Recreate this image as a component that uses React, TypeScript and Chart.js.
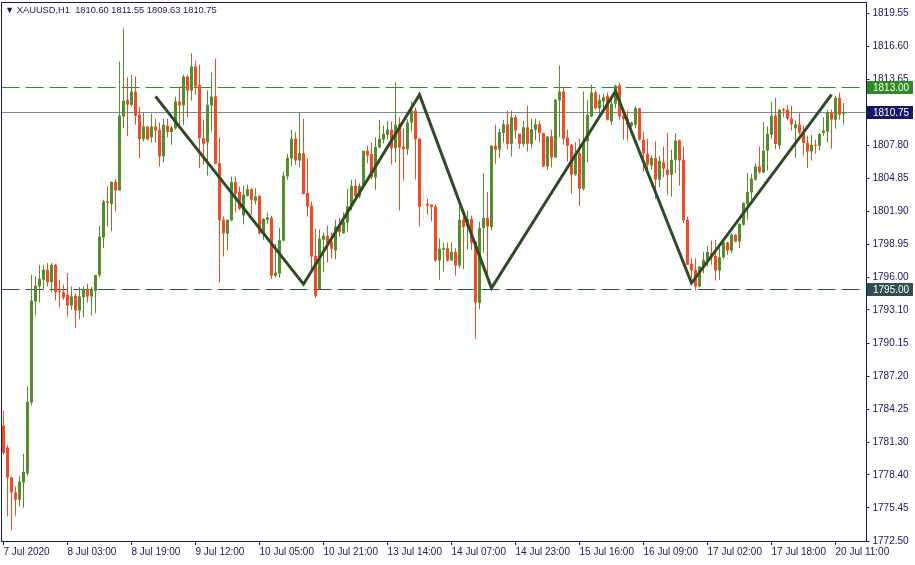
import React, { useEffect, useRef } from 'react';
import { Chart, registerables } from 'chart.js';

Chart.register(...registerables);

// ---- data (XAUUSD H1) ----
const opens = [
  1782.80, 1780.84, 1778.17, 1776.83, 1776.18, 1777.72, 1778.55, 1784.85, 1793.86, 1795.20,
  1795.80, 1796.69, 1795.56, 1797.13, 1794.82, 1794.69, 1794.45, 1793.50, 1794.36, 1793.06,
  1794.24, 1794.96, 1794.30, 1794.81, 1796.21, 1799.57, 1802.78, 1802.54, 1804.53, 1803.76,
  1810.36, 1811.85, 1811.40, 1812.59, 1810.51, 1808.33, 1809.46, 1808.51, 1809.46, 1809.16,
  1806.79, 1809.52, 1808.96, 1809.31, 1811.69, 1811.33, 1813.92, 1812.67, 1814.81, 1813.18,
  1808.42, 1808.03, 1811.33, 1812.13, 1806.19, 1801.14, 1799.89, 1801.08, 1804.50, 1803.61,
  1801.53, 1803.28, 1803.87, 1802.83, 1803.28, 1799.95, 1801.14, 1801.29, 1796.15, 1796.32,
  1799.30, 1805.00, 1806.61, 1808.36, 1806.43, 1807.08, 1803.52, 1802.39, 1797.93, 1794.96,
  1799.36, 1799.71, 1799.21, 1798.40, 1800.54, 1799.95, 1800.90, 1802.33, 1804.17, 1803.22,
  1804.17, 1807.29, 1807.00, 1804.91, 1807.59, 1808.27, 1808.72, 1809.16, 1807.53, 1809.70,
  1807.68, 1807.44, 1809.82, 1810.86, 1808.36, 1802.50, 1802.57, 1802.48, 1802.33, 1797.51,
  1798.46, 1798.61, 1797.51, 1798.26, 1797.07, 1801.14, 1800.49, 1801.20, 1799.21, 1793.71,
  1800.40, 1801.29, 1800.49, 1807.74, 1807.38, 1808.87, 1809.67, 1807.92, 1810.29, 1808.81,
  1807.92, 1809.40, 1807.92, 1809.16, 1809.67, 1808.87, 1805.90, 1808.57, 1806.70, 1811.78,
  1812.58, 1808.48, 1807.83, 1805.15, 1807.08, 1803.90, 1808.12, 1810.35, 1812.49, 1811.09,
  1811.69, 1812.19, 1809.90, 1811.48, 1813.12, 1810.41, 1810.14, 1809.52, 1809.61, 1811.09,
  1808.27, 1807.02, 1805.98, 1806.64, 1804.70, 1806.28, 1805.60, 1805.15, 1806.49, 1808.21,
  1806.49, 1801.14, 1797.22, 1796.68, 1795.20, 1796.92, 1797.51, 1798.17, 1797.93, 1796.62,
  1797.81, 1799.12, 1798.40, 1799.80, 1799.21, 1800.69, 1802.57, 1803.58, 1804.70, 1805.90,
  1805.36, 1807.29, 1808.72, 1810.41, 1807.77, 1811.00, 1810.95, 1810.14, 1809.31, 1809.67,
  1808.93, 1807.98, 1807.23, 1807.83, 1807.74, 1808.87, 1809.01, 1810.74, 1810.05, 1811.99,
  1810.60,
];
const highs = [
  1784.11, 1781.08, 1778.26, 1777.36, 1778.32, 1780.28, 1786.28, 1796.24, 1796.09, 1797.11,
  1797.10, 1797.28, 1797.28, 1797.20, 1795.80, 1795.35, 1796.39, 1795.20, 1794.60, 1795.14,
  1795.20, 1795.44, 1795.14, 1796.21, 1800.61, 1802.93, 1804.12, 1804.53, 1804.77, 1815.26,
  1818.17, 1813.84, 1814.07, 1813.92, 1811.19, 1810.71, 1809.50, 1810.59, 1810.14, 1809.82,
  1810.14, 1810.14, 1809.52, 1812.13, 1813.03, 1814.07, 1814.07, 1816.00, 1815.31, 1814.96,
  1810.05, 1812.67, 1814.27, 1815.49, 1808.48, 1801.44, 1801.14, 1805.00, 1805.00, 1804.11,
  1804.17, 1804.26, 1803.96, 1803.96, 1803.30, 1801.30, 1801.79, 1801.50, 1799.00, 1800.40,
  1805.45, 1807.02, 1809.16, 1808.95, 1810.74, 1810.14, 1806.64, 1802.77, 1800.34, 1800.25,
  1800.01, 1800.60, 1800.04, 1801.14, 1801.29, 1801.79, 1803.90, 1804.70, 1804.76, 1804.40,
  1807.30, 1807.74, 1808.06, 1808.51, 1810.05, 1809.52, 1809.97, 1809.90, 1813.38, 1810.29,
  1809.25, 1810.11, 1811.69, 1811.15, 1808.40, 1804.17, 1803.01, 1802.50, 1802.48, 1799.50,
  1799.12, 1799.12, 1799.12, 1798.61, 1802.33, 1801.38, 1801.94, 1801.50, 1799.21, 1800.99,
  1805.30, 1803.61, 1807.80, 1809.61, 1809.25, 1810.05, 1810.86, 1810.86, 1810.50, 1808.81,
  1809.97, 1811.30, 1810.14, 1810.14, 1809.97, 1808.90, 1808.60, 1809.16, 1811.90, 1814.90,
  1812.88, 1809.16, 1807.90, 1808.06, 1808.36, 1812.58, 1811.84, 1813.18, 1812.67, 1812.28,
  1812.37, 1812.49, 1811.84, 1813.18, 1813.38, 1810.74, 1810.89, 1809.90, 1811.30, 1811.10,
  1809.01, 1808.36, 1806.88, 1808.12, 1806.85, 1807.68, 1808.87, 1807.38, 1808.87, 1808.30,
  1807.68, 1801.44, 1797.72, 1797.72, 1797.00, 1798.26, 1798.82, 1799.30, 1799.36, 1798.70,
  1799.36, 1799.21, 1799.95, 1799.85, 1800.80, 1802.70, 1805.30, 1805.24, 1806.19, 1807.68,
  1809.85, 1809.46, 1811.69, 1811.99, 1811.00, 1811.10, 1811.39, 1811.30, 1809.97, 1810.65,
  1809.52, 1808.63, 1808.72, 1808.27, 1808.87, 1810.26, 1810.95, 1811.00, 1812.19, 1812.49,
  1811.55,
];
const lows = [
  1780.20, 1774.69, 1773.44, 1774.75, 1775.58, 1775.46, 1778.32, 1784.60, 1792.61, 1793.77,
  1794.96, 1795.20, 1794.66, 1793.95, 1793.32, 1794.00, 1792.52, 1793.11, 1791.54, 1792.28,
  1792.46, 1793.77, 1792.61, 1792.82, 1796.00, 1798.62, 1800.55, 1800.11, 1801.89, 1803.76,
  1809.32, 1808.58, 1811.25, 1809.62, 1806.64, 1808.12, 1808.20, 1808.03, 1808.03, 1805.90,
  1806.25, 1808.51, 1807.83, 1809.16, 1809.61, 1809.61, 1810.26, 1811.78, 1812.28, 1805.75,
  1806.04, 1805.09, 1809.01, 1806.10, 1795.55, 1797.87, 1798.40, 1801.00, 1801.79, 1802.00,
  1800.75, 1803.20, 1801.59, 1802.50, 1799.80, 1799.36, 1800.78, 1795.85, 1796.00, 1796.00,
  1799.20, 1804.70, 1805.90, 1806.04, 1805.81, 1803.40, 1801.44, 1796.62, 1794.16, 1794.90,
  1796.47, 1797.34, 1797.66, 1797.63, 1799.65, 1799.90, 1800.10, 1802.00, 1803.20, 1803.07,
  1804.10, 1806.19, 1804.76, 1803.81, 1807.53, 1807.97, 1808.33, 1806.04, 1806.25, 1801.97,
  1804.65, 1806.93, 1809.01, 1804.76, 1800.55, 1801.08, 1801.59, 1800.99, 1797.40, 1795.79,
  1796.53, 1797.40, 1797.50, 1796.18, 1796.83, 1796.74, 1798.46, 1798.46, 1790.50, 1793.17,
  1798.23, 1795.85, 1800.20, 1806.13, 1806.64, 1808.03, 1807.44, 1806.79, 1808.36, 1807.47,
  1807.62, 1807.23, 1807.53, 1808.21, 1808.03, 1805.85, 1805.60, 1805.81, 1806.64, 1808.51,
  1807.83, 1806.34, 1803.46, 1805.06, 1802.39, 1803.75, 1806.25, 1810.30, 1810.95, 1810.41,
  1810.95, 1810.00, 1809.61, 1811.09, 1810.05, 1808.27, 1808.21, 1809.40, 1809.31, 1808.20,
  1805.45, 1805.66, 1805.60, 1802.98, 1804.05, 1804.94, 1803.37, 1803.22, 1805.30, 1804.17,
  1800.84, 1797.10, 1795.94, 1794.84, 1795.15, 1796.38, 1796.98, 1797.13, 1795.73, 1795.79,
  1797.63, 1798.02, 1798.17, 1799.12, 1798.61, 1800.60, 1801.14, 1802.92, 1804.65, 1805.24,
  1805.30, 1805.54, 1808.36, 1807.44, 1807.44, 1810.30, 1809.99, 1809.10, 1806.64, 1808.72,
  1806.85, 1805.75, 1806.43, 1807.02, 1807.32, 1808.63, 1808.03, 1807.47, 1809.25, 1810.05,
  1809.63,
];
const closes = [
  1780.34, 1778.17, 1776.83, 1776.18, 1777.78, 1778.67, 1784.91, 1793.92, 1795.26, 1795.86,
  1796.69, 1795.56, 1797.13, 1794.67, 1794.67, 1794.22, 1793.50, 1794.30, 1793.06, 1794.30,
  1794.96, 1794.30, 1794.99, 1796.21, 1799.66, 1802.78, 1802.63, 1804.53, 1803.76, 1810.42,
  1811.76, 1811.40, 1812.59, 1810.42, 1808.34, 1809.46, 1808.33, 1809.46, 1809.07, 1806.79,
  1809.61, 1808.96, 1809.37, 1811.69, 1811.33, 1813.92, 1812.67, 1814.81, 1813.03, 1808.42,
  1807.92, 1811.39, 1812.13, 1806.13, 1801.08, 1799.95, 1801.14, 1804.50, 1803.46, 1802.12,
  1803.37, 1803.87, 1802.92, 1803.22, 1799.95, 1801.20, 1801.35, 1796.15, 1796.44, 1799.36,
  1805.06, 1806.64, 1808.36, 1806.43, 1807.08, 1803.43, 1802.33, 1797.87, 1794.36, 1799.45,
  1799.71, 1799.06, 1798.55, 1800.54, 1800.04, 1800.99, 1802.33, 1804.17, 1803.22, 1804.17,
  1807.29, 1806.88, 1804.94, 1807.62, 1808.36, 1808.81, 1809.16, 1807.53, 1809.61, 1807.59,
  1807.44, 1809.82, 1810.86, 1808.33, 1802.27, 1802.50, 1802.42, 1802.27, 1797.51, 1798.55,
  1798.61, 1797.51, 1798.26, 1797.07, 1801.14, 1800.49, 1801.20, 1799.12, 1793.77, 1800.40,
  1801.29, 1800.54, 1807.74, 1807.38, 1808.96, 1809.67, 1807.92, 1810.29, 1809.10, 1807.92,
  1809.40, 1807.92, 1809.22, 1809.67, 1808.87, 1805.90, 1808.57, 1806.70, 1811.84, 1812.58,
  1808.36, 1807.74, 1805.15, 1807.08, 1803.90, 1808.12, 1810.50, 1812.49, 1811.09, 1811.84,
  1812.07, 1810.05, 1811.48, 1813.12, 1810.35, 1810.11, 1809.61, 1809.82, 1811.09, 1808.27,
  1807.08, 1806.04, 1806.64, 1804.70, 1806.40, 1805.69, 1805.15, 1806.49, 1808.21, 1806.43,
  1801.08, 1797.13, 1796.62, 1795.20, 1796.98, 1797.57, 1798.26, 1797.81, 1796.62, 1797.81,
  1799.12, 1798.40, 1799.80, 1799.21, 1800.78, 1802.63, 1803.61, 1804.79, 1805.90, 1805.39,
  1807.29, 1808.78, 1810.41, 1807.89, 1810.95, 1810.89, 1810.14, 1809.67, 1809.67, 1808.93,
  1807.98, 1807.23, 1807.83, 1807.74, 1808.78, 1809.07, 1810.74, 1810.05, 1811.99, 1810.50,
  1810.75,
];
const faintBars = [105];

const tickLabels = [
  '7 Jul 2020', '8 Jul 03:00', '8 Jul 19:00', '9 Jul 12:00', '10 Jul 05:00', '10 Jul 21:00',
  '13 Jul 14:00', '14 Jul 07:00', '14 Jul 23:00', '15 Jul 16:00', '16 Jul 09:00',
  '17 Jul 02:00', '17 Jul 18:00', '20 Jul 11:00',
];
const tickEvery = 16;
const slotCount = 216;

const yTicks = [
  1819.55, 1816.60, 1813.65, 1810.70, 1807.80, 1804.85, 1801.90, 1798.95, 1796.00,
  1793.10, 1790.15, 1787.20, 1784.25, 1781.30, 1778.40, 1775.45, 1772.50,
];
const yMin = 1772.5;
const yMax = 1820.47;

const zigIdx = [38, 75, 104, 122, 153, 172, 207];
const zigVal = [1812.15, 1795.4, 1812.3, 1795.05, 1812.6, 1795.5, 1812.3];

const resistance = 1813.0;
const support = 1795.0;
const bidPrice = 1810.75;

const titleText = '\u25BC XAUUSD,H1  1810.60 1811.55 1809.63 1810.75';

// ---- styles ----
const NAVY = '#16165e';
const BULL = '#578c2b';
const BEAR = '#f24b24';
const FAINT = '#efe8dc';
const ZIG = '#2f4a26';
const RES_COLOR = '#2e8b22';
const SUP_COLOR = '#2f4f4f';
const BID_COLOR = '#778899';
const BID_BOX = '#17176a';
const FONT = '"Liberation Sans", Arial, sans-serif';

const labels = Array.from({ length: slotCount }, (_, i) =>
  i % tickEvery === 0 && tickLabels[i / tickEvery] ? tickLabels[i / tickEvery] : ''
);

const barColor = (i: number) =>
  faintBars.includes(i) ? FAINT : closes[i] >= opens[i] ? BULL : BEAR;

const overlayPlugin = {
  id: 'mt4overlay',
  beforeDatasetsDraw(chart: any) {
    const { ctx, chartArea: a, scales } = chart;
    const y = scales.y;
    ctx.save();
    ctx.lineWidth = 1;
    // bid line
    let py = Math.round(y.getPixelForValue(bidPrice)) + 0.5;
    ctx.strokeStyle = BID_COLOR;
    ctx.setLineDash([]);
    ctx.beginPath();
    ctx.moveTo(a.left, py);
    ctx.lineTo(a.right, py);
    ctx.stroke();
    // dashed levels
    const lv: [number, string][] = [[resistance, RES_COLOR], [support, SUP_COLOR]];
    ctx.setLineDash([18, 6]);
    for (const [v, c] of lv) {
      py = Math.round(y.getPixelForValue(v)) + 0.5;
      ctx.strokeStyle = c;
      ctx.beginPath();
      ctx.moveTo(a.left, py);
      ctx.lineTo(a.right, py);
      ctx.stroke();
    }
    ctx.restore();
  },
  afterDraw(chart: any) {
    const { ctx, chartArea: a, scales } = chart;
    const y = scales.y;
    ctx.save();
    // frame
    ctx.strokeStyle = NAVY;
    ctx.lineWidth = 1;
    ctx.setLineDash([]);
    ctx.strokeRect(a.left, a.top - 0.5, a.right + 1 - a.left, a.bottom + 1 - a.top);
    // price boxes
    const boxes: [number, string][] = [[resistance, RES_COLOR], [bidPrice, BID_BOX], [support, SUP_COLOR]];
    ctx.font = '10px ' + FONT;
    ctx.textBaseline = 'middle';
    ctx.textAlign = 'left';
    for (const [v, c] of boxes) {
      const py = Math.round(y.getPixelForValue(v));
      ctx.fillStyle = c;
      ctx.fillRect(Math.round(a.right) + 1, py - 6, 46, 13);
      ctx.fillStyle = '#ffffff';
      ctx.fillText(v.toFixed(2), Math.round(a.right) + 7, py + 1);
    }
    ctx.restore();
  },
};

export default function App() {
  const ref = useRef<HTMLCanvasElement | null>(null);

  useEffect(() => {
    if (!ref.current) return;
    Chart.defaults.font.family = FONT;
    Chart.defaults.font.size = 10;

    const zig: (number | null)[] = Array(slotCount).fill(null);
    zigIdx.forEach((idx, k) => {
      zig[idx] = zigVal[k];
    });

    const colors = opens.map((_, i) => barColor(i));

    const chart = new Chart(ref.current, {
      type: 'bar',
      data: {
        labels,
        datasets: [
          {
            type: 'line',
            data: zig,
            borderColor: ZIG,
            borderWidth: 3,
            pointRadius: 0,
            spanGaps: true,
            tension: 0,
            fill: false,
          } as any,
          {
            type: 'bar',
            data: opens.map((o, i) => [o, closes[i]]),
            backgroundColor: colors,
            borderWidth: 0,
            barThickness: 3,
            grouped: false,
            minBarLength: 1,
            inflateAmount: 0,
          } as any,
          {
            type: 'bar',
            data: lows.map((l, i) => [l, highs[i]]),
            backgroundColor: colors,
            borderWidth: 0,
            barThickness: 1,
            grouped: false,
            inflateAmount: 0,
          } as any,
        ],
      },
      options: {
        responsive: false,
        animation: false,
        devicePixelRatio: 1,
        layout: { padding: { left: 1.5, top: 3, right: 0, bottom: 0 } },
        plugins: { legend: { display: false }, tooltip: { enabled: false } },
        events: [],
        scales: {
          x: {
            type: 'category',
            offset: true,
            grid: {
              display: true,
              drawOnChartArea: false,
              drawTicks: true,
              tickLength: 4,
              color: NAVY,
              offset: false,
            },
            border: { display: false },
            ticks: {
              autoSkip: false,
              maxRotation: 0,
              minRotation: 0,
              align: 'start',
              padding: 1,
              color: NAVY,
              font: { size: 10, family: FONT },
            },
            afterBuildTicks: (s: any) => {
              s.ticks = s.ticks.filter((t: any) => labels[t.value] !== '');
            },
            afterFit: (s: any) => {
              s.height = 24;
              s.paddingLeft = 0;
              s.paddingRight = 0;
            },
          },
          y: {
            type: 'linear',
            position: 'right',
            min: yMin,
            max: yMax,
            grid: {
              display: true,
              drawOnChartArea: false,
              drawTicks: true,
              tickLength: 4,
              color: NAVY,
            },
            border: { display: false },
            ticks: {
              padding: 3,
              color: NAVY,
              font: { size: 10, family: FONT },
              callback: (v: any) => Number(v).toFixed(2),
            },
            afterBuildTicks: (s: any) => {
              s.ticks = yTicks.map((v) => ({ value: v }));
            },
            afterFit: (s: any) => {
              s.width = 49.5;
              s.paddingTop = 0;
              s.paddingBottom = 0;
            },
          },
        },
      } as any,
      plugins: [overlayPlugin],
    });
    return () => chart.destroy();
  }, []);

  return (
    <div style={{ position: 'fixed', left: 0, top: 0, width: 915, height: 565, background: '#ffffff' }}>
      <canvas ref={ref} width={915} height={565} style={{ display: 'block', width: 915, height: 565 }} />
      <div
        style={{
          position: 'absolute',
          left: 5,
          top: 4,
          font: '9.3px ' + FONT,
          color: NAVY,
          whiteSpace: 'pre',
          lineHeight: '12px',
        }}
      >
        {titleText}
      </div>
    </div>
  );
}
